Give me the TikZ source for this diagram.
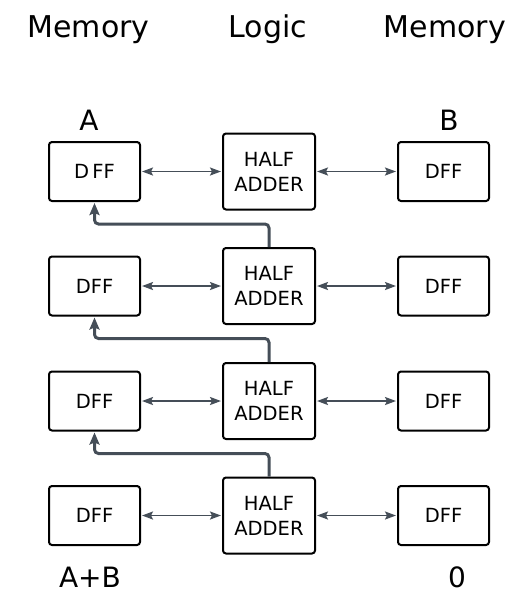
\documentclass[tikz,border=0pt]{standalone}
\usepackage{fontspec}
\setmainfont{DejaVu Sans}
\usetikzlibrary{arrows.meta}
\definecolor{wire}{HTML}{454E58}
\tikzset{
  x=1pt, y=-1pt,
  block/.style={draw=black, line width=2pt, rounded corners=3pt, inner sep=0pt,
                align=center, font=\fontsize{19.5}{25}\selectfont},
  dff/.style={block, minimum width=91pt, minimum height=59pt},
  adder/.style={block, minimum width=92pt, minimum height=76pt},
  link/.style={wire, line width=1.9pt, {Stealth[length=11pt,width=8pt,inset=2pt]}-{Stealth[length=11pt,width=8pt,inset=2pt]}, shorten <=1pt, shorten >=1pt},
  carry/.style={wire, line width=3pt, rounded corners=4pt, -{Stealth[length=12pt,width=10pt,inset=2pt]}, shorten >=1pt},
  head/.style={font=\fontsize{30}{36}\selectfont, anchor=base},
  tag/.style={font=\fontsize{28}{34}\selectfont, anchor=base}
}
\begin{document}
\begin{tikzpicture}
\useasboundingbox (0,0) rectangle (526,595);

% column headings
\node[head] (hmem1) at (88.5,37) {Memory};
\node[head] (hlogic) at (268,37) {Logic};
\node[head] (hmem2) at (445,37) {Memory};

% four bit slices: register A, half adder, register B
\foreach \i/\y/\lbl in {1/171.5/D\,FF, 2/286/DFF, 3/401/DFF, 4/515.5/DFF} {
  \node[dff]   (l\i) at (94.5,\y) {\lbl};
  \node[adder] (h\i) at (269,\y)  {HALF\\ADDER};
  \node[dff]   (r\i) at (443.5,\y) {DFF};
  \draw[link] (l\i.east) -- (h\i.west);
  \draw[link] (h\i.east) -- (r\i.west);
}

% carry paths from each adder back to the register above
\foreach \i/\j in {2/1, 3/2, 4/3} {
  \draw[carry] (h\i.north) |- ([yshift=-22pt]l\j.south) -- (l\j.south);
}

% operand and result labels
\node[tag] (ta) at (89,130) {A};
\node[tag] (tb) at (449,130) {B};
\node[tag] (tsum) at (90,587) {A+B};
\node[tag] (tzero) at (457,587) {0};
\end{tikzpicture}
\end{document}
